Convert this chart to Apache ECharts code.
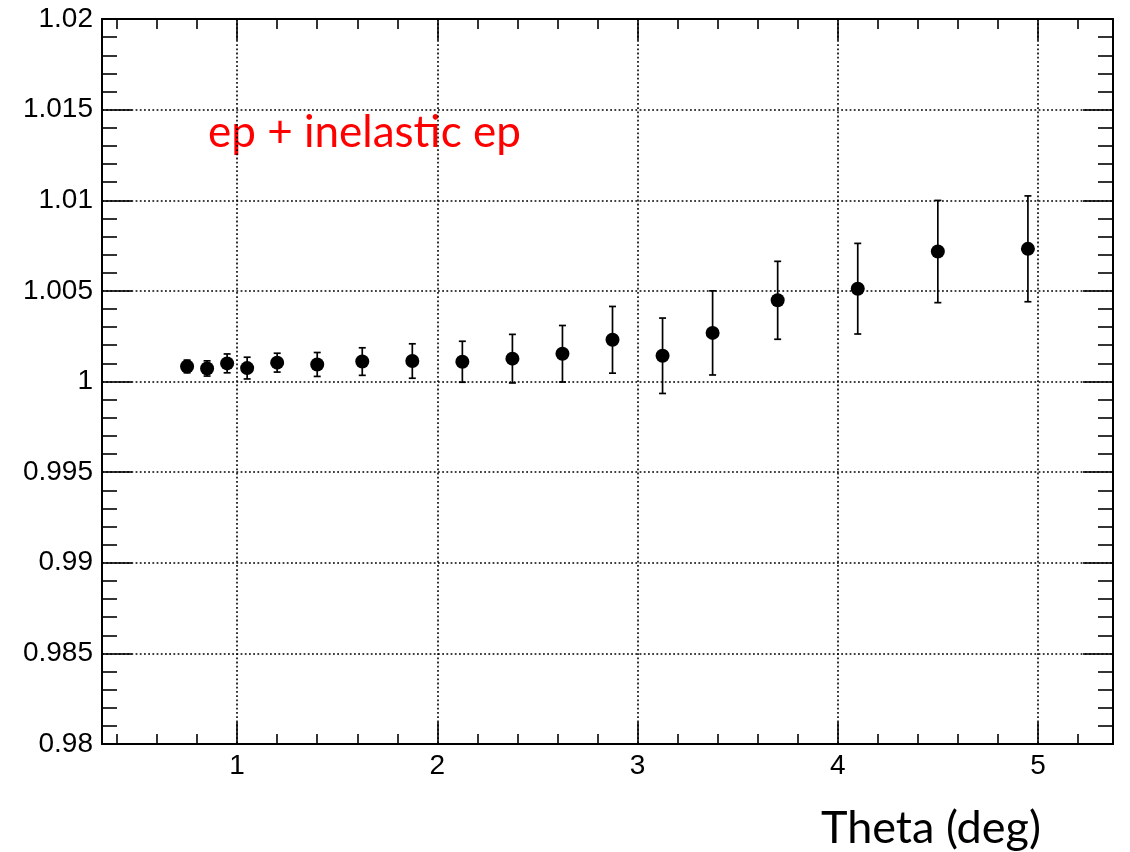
<!DOCTYPE html>
<html>
<head>
<meta charset="utf-8">
<script src="https://cdn.jsdelivr.net/npm/echarts@6/dist/echarts.min.js"></script>
<style>
html,body{margin:0;padding:0;background:#fff;}
#chart{width:1130px;height:852px;}
</style>
</head>
<body>
<div id="chart"></div>
<script>
// ---- data ----
const theta = [0.75, 0.85, 0.95, 1.05, 1.2, 1.4, 1.625, 1.875, 2.125, 2.375, 2.625, 2.875, 3.125, 3.375, 3.7, 4.1, 4.5, 4.95];
const ratio = [1.00083, 1.00072, 1.00100, 1.00074, 1.00104, 1.00094, 1.00110, 1.00113, 1.00109, 1.00126, 1.00153, 1.00230, 1.00142, 1.00268, 1.00448, 1.00512, 1.00717, 1.00732];
const ratioErr = [0.00035, 0.00042, 0.00052, 0.00060, 0.00052, 0.00066, 0.00076, 0.00095, 0.00113, 0.00134, 0.00156, 0.00184, 0.00208, 0.00232, 0.00215, 0.00250, 0.00282, 0.00292];
const xMajorTicks = [1, 2, 3, 4, 5];
const xMinorTicks = [0.4, 0.6, 0.8, 1.2, 1.4, 1.6, 1.8, 2.2, 2.4, 2.6, 2.8, 3.2, 3.4, 3.6, 3.8, 4.2, 4.4, 4.6, 4.8, 5.2];
const xRange = [0.325, 5.375];
const yRange = [0.98, 1.02];
const yStep = 0.005;
const annotation = 'ep + inelastic ep';
const xTitle = 'Theta (deg)';

const pts = theta.map((t, i) => [t, ratio[i], ratioErr[i]]);

const gridLine = {show: true, lineStyle: {color: '#000', width: 1.6, type: [1.8, 2.4]}};
const axisLine = {show: true, onZero: false, lineStyle: {color: '#000', width: 2}};
const labelFont = {color: '#000', fontFamily: 'Liberation Sans, Arial, sans-serif', fontSize: 28};

function xAx(pos, ticks, len, opts) {
  return Object.assign({
    type: 'value', position: pos, min: xRange[0], max: xRange[1],
    axisLine: axisLine,
    axisTick: {show: true, inside: true, length: len, customValues: ticks, lineStyle: {color: '#000', width: 1.6}},
    axisLabel: {show: false},
    splitLine: {show: false}
  }, opts || {});
}
function yAx(pos, opts) {
  return Object.assign({
    type: 'value', position: pos, min: yRange[0], max: yRange[1], interval: yStep,
    axisLine: axisLine,
    axisTick: {show: true, inside: true, length: 30, lineStyle: {color: '#000', width: 1.6}},
    minorTick: {show: true, splitNumber: 5, length: 15, lineStyle: {color: '#000', width: 1.6}},
    axisLabel: {show: false},
    splitLine: {show: false}
  }, opts || {});
}

const chart = echarts.init(document.getElementById('chart'), null, {renderer: 'canvas'});
chart.setOption({
  animation: false,
  backgroundColor: '#fff',
  grid: {left: 102, right: 17, top: 19, bottom: 108, outerBoundsMode: 'none', containLabel: false},
  xAxis: [
    xAx('bottom', xMajorTicks, 22, {
      axisLabel: Object.assign({show: true, customValues: xMajorTicks, margin: 8}, labelFont),
      splitLine: gridLine
    }),
    xAx('bottom', xMinorTicks, 10),
    xAx('top', xMajorTicks, 21),
    xAx('top', xMinorTicks, 10)
  ],
  yAxis: [
    yAx('left', {
      axisLabel: Object.assign({show: true, margin: 9}, labelFont),
      splitLine: gridLine
    }),
    yAx('right')
  ],
  graphic: [
    {type: 'text', left: 208, top: 111, style: {text: annotation, fill: '#ff0000', font: '44px Lato, sans-serif'}},
    {type: 'text', right: 89, top: 806, style: {text: xTitle, fill: '#000', font: '45px Lato, sans-serif'}}
  ],
  series: [
    {
      type: 'custom',
      xAxisIndex: 0, yAxisIndex: 0,
      data: pts,
      encode: {x: 0, y: 1},
      z: 3,
      renderItem: function (params, api) {
        const x = api.value(0), y = api.value(1), e = api.value(2);
        const top = api.coord([x, y + e]);
        const bot = api.coord([x, y - e]);
        const cw = 3.5;
        const st = {stroke: '#000', lineWidth: 1.7};
        return {type: 'group', children: [
          {type: 'line', shape: {x1: top[0], y1: top[1], x2: bot[0], y2: bot[1]}, style: st},
          {type: 'line', shape: {x1: top[0] - cw, y1: top[1], x2: top[0] + cw, y2: top[1]}, style: st},
          {type: 'line', shape: {x1: bot[0] - cw, y1: bot[1], x2: bot[0] + cw, y2: bot[1]}, style: st}
        ]};
      }
    },
    {
      type: 'scatter',
      xAxisIndex: 0, yAxisIndex: 0,
      data: pts.map(p => [p[0], p[1]]),
      symbol: 'circle', symbolSize: 14,
      itemStyle: {color: '#000', opacity: 1},
      z: 4
    }
  ]
});
</script>
</body>
</html>
